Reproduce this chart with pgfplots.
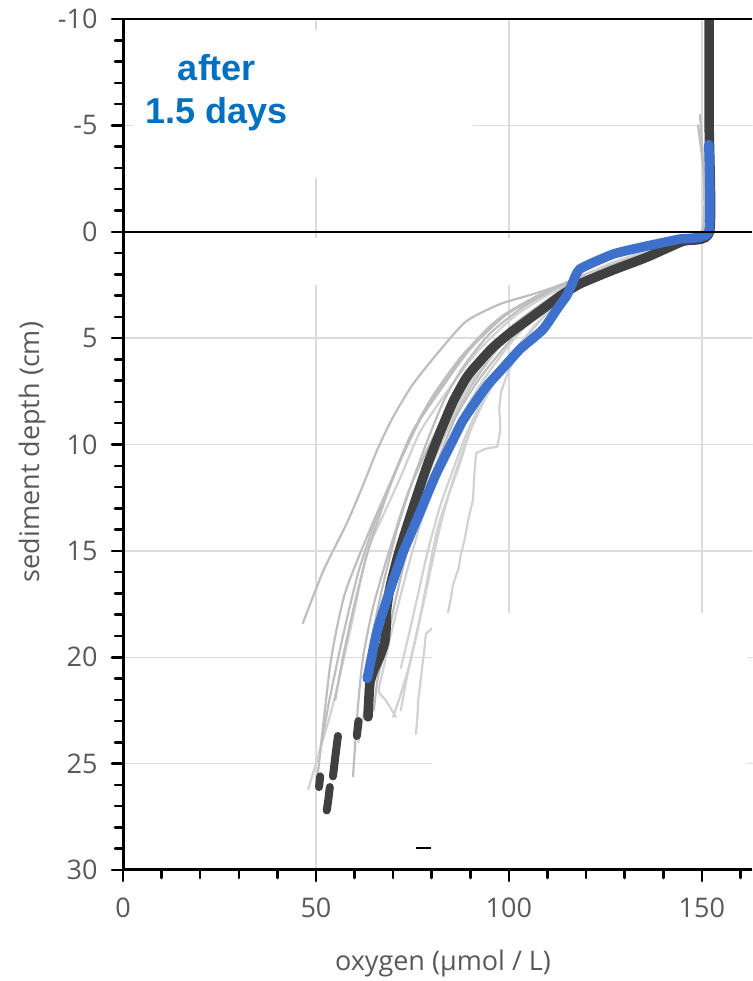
\documentclass[border=0pt]{standalone}
\usepackage{pgfplots}
\pgfplotsset{compat=1.18}
\usepackage{fontspec}
\setmainfont{Open Sans}
\newfontfamily\titlefont{Liberation Sans}
\definecolor{darkline}{RGB}{64,64,64}
\definecolor{blueline}{RGB}{61,113,204}
\definecolor{textgray}{RGB}{89,89,89}
\definecolor{titleblue}{RGB}{0,112,192}
\definecolor{gridgray}{RGB}{220,220,220}
\definecolor{gA}{RGB}{190,190,190}
\definecolor{gB}{RGB}{210,210,210}
\begin{document}
\begin{tikzpicture}
\useasboundingbox (-123pt,-111pt) rectangle (629pt,870pt);
\begin{axis}[name=ax, at={(0,0)}, anchor=south west, scale only axis,
  width=629pt, height=851pt,
  xmin=0, xmax=163, ymin=-10, ymax=30, y dir=reverse,
  xtick={0,50,100,150},
  minor xtick={10,20,30,40,60,70,80,90,110,120,130,140,160},
  ytick={-10,-5,...,30}, minor y tick num=4,
  tick align=outside, xtick pos=left, ytick pos=left,
  major tick length=11pt, minor tick length=8pt,
  tick style={black, line width=2.5pt},
  axis line style={draw=none},
  grid=major, major grid style={gridgray, line width=1.5pt},
  ticklabel style={font=\fontsize{27}{27}\selectfont, text=textgray},
  yticklabel style={xshift=-11pt},
  xticklabel style={yshift=-13pt},
  /pgf/number format/assume math mode=true,
  line join=round, line cap=round,
  gl/.style={gA, line width=2.2pt, smooth, tension=0.4},
  gm/.style={gB, line width=2.2pt, smooth, tension=0.4},
]
% gray individual profiles
\addplot[gl] coordinates {(149.5,-5.5)(150,0)(134,1)(115,2.4)(105,3)(97.7,3.4)(89,4.2)(82,5.6)(75,7.2)(70,8.7)(66,10.2)(62,12)(58,13.7)(52,15.9)(46.6,18.4)};
\addplot[gl] coordinates {(150,0)(132,1.2)(112,2.6)(100,3.8)(90,5.5)(82,7.5)(75,9.4)(70,11.5)(64,14)(57.5,17)(54,20)(52,23)(50.3,25.8)};
\addplot[gm] coordinates {(150.5,-4)(150.5,0)(133,1.2)(114,2.6)(102,3.9)(92,5.6)(84,7.5)(77,9.4)(72,11.5)(67,13.5)(63.2,15.1)(58.8,18.8)(54,22.5)(48,26.2)};
\addplot[gl] coordinates {(150,0)(134,1.2)(116,2.6)(104,4)(94,5.8)(86,7.8)(80,9.8)(74,12.2)(69,15)(65,17.5)(62.2,20)(60.8,22.5)(59.6,25.6)};
\addplot[gm] coordinates {(150,0)(135,1.1)(117,2.5)(106,3.8)(96,5.5)(88,7.5)(82,9.5)(76,12)(71,15)(67,18)(64.5,20)(62.5,22.5)(61,24)};
\addplot[gl] coordinates {(149,-5)(151,0)(137,1)(119,2.3)(108,3.6)(98,5.3)(90,7.3)(84,9.3)(78.5,11.7)(73.5,14.5)(69,17.5)(66,20)(64,21.5)};
\addplot[gm] coordinates {(151,0)(140,0.8)(122,2)(112,3.4)(104,5)(97,6.8)(91,8.8)(87.3,10.9)(83.5,12.8)(81.3,14.1)(78.8,16.4)(77,18.1)(74,20.5)(71.5,22)(70,22.8)};
\addplot[gB, line width=2.2pt] coordinates {(151,0)(140,0.8)(124,1.8)(114,3)(106,4.6)(100,6.5)(98,7.5)(97.5,8.3)(97.8,9.3)(97,10.1)(94,10.2)(91.5,10.4)(91,11.5)(90.7,12.6)(89.5,13.5)(88.5,14.5)(87.5,15.2)(87,15.8)(85.5,16.6)(85,17.2)(84,18.1)(81,18.5)(78.5,18.9)(78,19.8)(77.5,20.5)(77,21.3)(76.5,22)(76.3,22.8)(75.9,23.6)};
\addplot[gl] coordinates {(151,0)(138,1)(120,2.2)(110,3.5)(100,5.2)(92,7)(86,8.8)(80,11.5)(75,14)(71,17)(68,19.5)(66,21)(65,22.5)};
\addplot[gm] coordinates {(151,0)(139,0.9)(121,2.1)(111,3.3)(102,4.9)(94,6.8)(88,8.6)(82.5,11)(77.5,13.5)(73.5,16)(70,18.5)(67.5,20.5)(66.3,21.6)(68,22)(70.7,22.8)};
\addplot[gl] coordinates {(150,0)(131,1.3)(111,2.7)(98,4)(88,5.8)(80,7.8)(74,9.8)(68.5,12.3)(63.5,15)(60,17.5)(57,20)(55,22)};
\addplot[gm] coordinates {(151,0)(136,1.1)(118,2.4)(107,3.7)(97,5.4)(89,7.4)(83,9.4)(77.5,12)(72.5,15)(68.5,18)(65.5,20.5)(63.5,22.5)};
\addplot[gm] coordinates {(151,0)(141,0.7)(125,1.7)(116,2.8)(108,4.2)(100,6)(94,7.8)(89,9.8)(85,12)(82,14)(79,16.5)(76,19)(73.5,21)(72,22.5)};
\addplot[gl] coordinates {(150,0)(130,1.4)(110,2.8)(96,4.3)(86,6.3)(78,8.5)(72,10.7)(66,13.3)(61,16)(57,19)(53.5,22)(51,24.5)};
\addplot[gl] coordinates {(151,0)(137,0.9)(120,2.0)(110,3.2)(101,4.4)(94,5.7)(88,7.2)(83,9)(79,10.8)(75.5,12.6)(72,14.6)(69.5,16.5)(67,19)};
\addplot[gm] coordinates {(151,0)(134,1.3)(117,2.7)(108,3.8)(99,5.1)(92,6.6)(86.5,8.3)(82,10)(78,12)(74,14)(70.5,16.3)(68,18.3)(66,20)};
\addplot[gl] coordinates {(150,0)(133,1.1)(116,2.3)(104,3.5)(95,4.8)(88,6.4)(83,8)(78.5,10)(74.5,12)(71,14)(67.5,16.5)(64.5,19)};
\addplot[gm] coordinates {(151,0)(141,0.6)(126,1.5)(118,2.3)(111,3.6)(105,4.8)(99,6.2)(93.5,7.8)(89,9.5)(85.5,11.2)(82,13)(79,15)(76.5,17)(74,19)(72,20.5)};
% mean profile (dark)
\addplot[darkline, line width=9.5pt, smooth, tension=0.35] coordinates {(151.9,-10)(151.9,-5)(152,0)(145,0.45)(135.7,1.2)(127,1.8)(118.4,2.45)(113.5,3.0)(109,3.6)(104.5,4.2)(100,4.8)(95.5,5.5)(90.5,6.5)(88.5,7)(85.5,8)(82,9.5)(78.8,11)(75.1,13)(71.6,15)(69.2,16.7)(68.3,17.8)(68.2,18.6)(67.8,19.3)(66.5,20)(65,20.6)(64,21.2)(63.7,22)(63.5,22.8)};
\addplot[darkline, line width=8pt] coordinates {(61,23.0)(60.6,23.7)};
\addplot[darkline, line width=8pt] coordinates {(55.7,23.7)(55,24.7)(54.4,25.6)};
\addplot[darkline, line width=8pt] coordinates {(51.1,25.6)(50.8,26.1)};
\addplot[darkline, line width=8pt] coordinates {(53.6,26.1)(53.2,26.7)(52.8,27.2)};
% after 1.5 days (blue)
\addplot[blueline, line width=9.5pt, smooth, tension=0.3] coordinates {(151.8,-4.1)(151.8,0)(144,0.35)(135,0.7)(127,1.05)(118.4,1.75)(116.5,2.4)(115,3)(113,3.5)(108.8,4.6)(103,5.5)(98.5,6.4)(94.5,7.2)(91.5,7.95)(88,8.9)(85.5,9.8)(81.1,11.4)(76.7,13.3)(72.5,15.1)(68.9,17)(66.6,18.3)(65.3,19.2)(64.2,20.2)(63.3,21)};
% white patches of the original figure
\fill[white] (axis cs:2.6,-9.48) rectangle (axis cs:90.7,-2.52);
\fill[white] (axis cs:2.6,0.28) rectangle (axis cs:110,2.5);
\fill[white] (axis cs:80,17.9) rectangle (axis cs:161.8,29.9);
\draw[black, line width=2pt, line cap=butt] (axis cs:75.9,28.97) -- (axis cs:79.7,28.97);
\draw[black, line width=2.5pt, line cap=butt] (axis cs:0,0) -- (axis cs:163,0);
\end{axis}
\draw[black, line width=3pt, line cap=butt] (ax.north west) -- (ax.south west) -- (ax.south east);
\draw[black, line width=2.5pt, line cap=butt] (ax.north west) -- (ax.north east);
\node[rotate=90, text=textgray, font=\fontsize{27}{27}\selectfont] at (-91pt,418pt) {sediment depth (cm)};
\node[text=textgray, font=\fontsize{27}{27}\selectfont] at (320pt,-93pt) {oxygen (µmol / L)};
\node[align=center, text=titleblue, font=\titlefont\bfseries\fontsize{36}{43}\selectfont] at (94pt,777pt) {after\\1.5 days};
\end{tikzpicture}
\end{document}
